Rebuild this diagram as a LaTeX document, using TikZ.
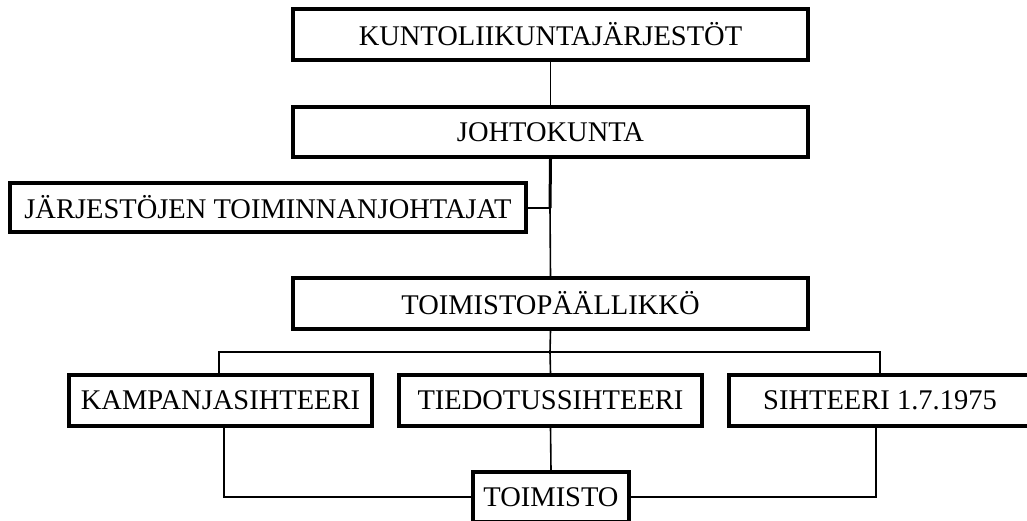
\documentclass[tikz,border=0pt]{standalone}
\usepackage{fontspec}
\setmainfont{Liberation Serif}
\begin{document}
\begin{tikzpicture}[x=1pt,y=-1pt,
  box/.style={draw,rectangle,line width=3.4pt,inner sep=0pt,fill=white,
    font=\fontsize{28.5}{33}\selectfont},
  thin/.style={line width=1.6pt},
  thick/.style={line width=3pt}]
\useasboundingbox (0,0) rectangle (1027,521);
\coordinate (j) at (550,208);
\coordinate (bus) at (550,352);
\node[box,minimum width=515pt,minimum height=51pt] (b1) at (550.5,34.5) {KUNTOLIIKUNTAJÄRJESTÖT};
\node[box,minimum width=515pt,minimum height=50pt] (b2) at (550.5,132) {JOHTOKUNTA};
\node[box,minimum width=516pt,minimum height=49pt] (b3) at (268,207.5) {JÄRJESTÖJEN TOIMINNANJOHTAJAT};
\node[box,minimum width=515pt,minimum height=51pt] (b4) at (550.5,303.5) {TOIMISTOPÄÄLLIKKÖ};
\node[box,minimum width=303pt,minimum height=51pt] (b5) at (220.5,400.5) {KAMPANJASIHTEERI};
\node[box,minimum width=303pt,minimum height=51pt] (b6) at (550.5,400.5) {TIEDOTUSSIHTEERI};
\node[box,minimum width=302pt,minimum height=51pt] (b7) at (880,400.5) {SIHTEERI 1.7.1975};
\node[box,minimum width=156pt,minimum height=50pt] (b8) at (551,497) {TOIMISTO};
% lines
\draw[thin] (b1.south) -- (b2.north);
\draw[thick] (b2.south) -- (j);
\draw[thin] (b3.east |- j) -- (j) -- (b4.north);
\draw[thin] (b4.south) -- (bus);
\draw[thin] ([xshift=-1.5pt]b5.north) |- (bus) -| (b7.north);
\draw[thin] (bus) -- (b6.north);
\draw[thin] (b6.south) -- (b8.north);
\draw[thin] ([xshift=3.5pt]b5.south) |- (b8.west);
\draw[thin] ([xshift=-4pt]b7.south) |- (b8.east);
\end{tikzpicture}
\end{document}
